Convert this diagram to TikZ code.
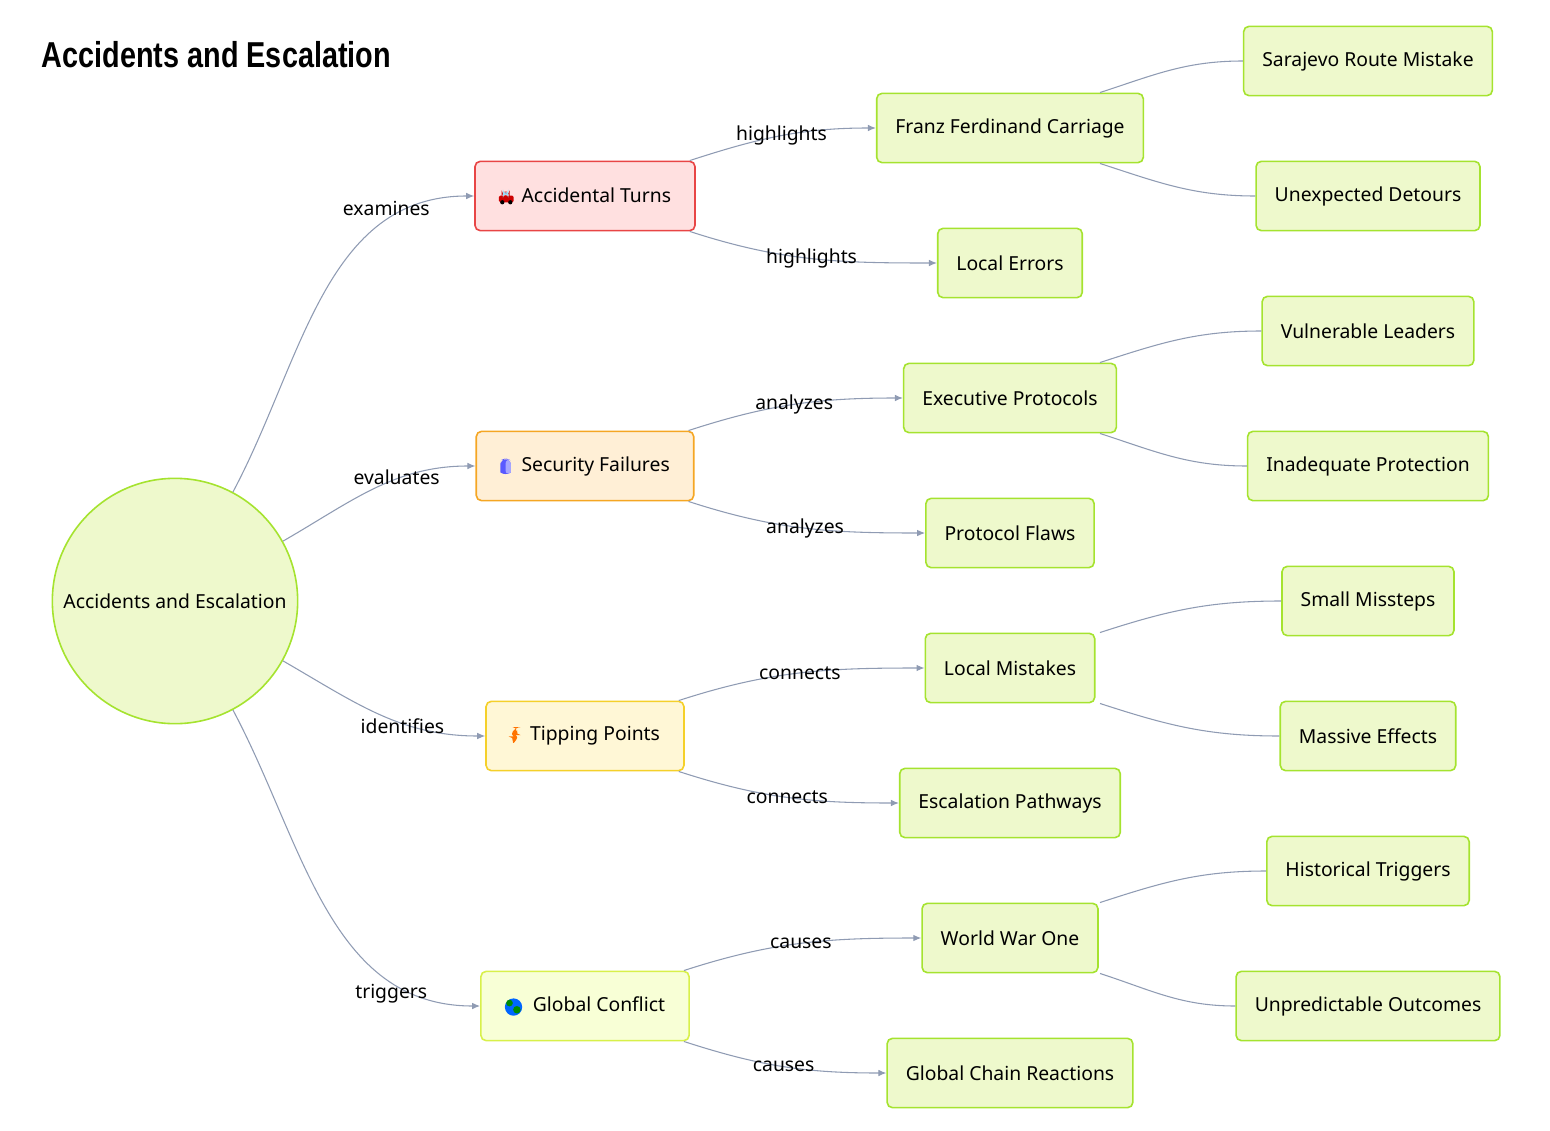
\documentclass[tikz,border=0pt]{standalone}
\usepackage{fontspec}
\setmainfont{Noto Sans}
\newfontfamily\titlefont{Liberation Sans}
\usetikzlibrary{arrows.meta,calc}

\definecolor{edgegray}{HTML}{8F9BB3}
\definecolor{leaffill}{HTML}{EEF9CC}
\definecolor{leafline}{HTML}{A5E32F}
\tikzset{every picture/.style={line width=0.75pt}}
\tikzset{
  box/.style={draw, rounded corners=4pt, minimum height=52pt, inner xsep=14pt,
    font=\fontsize{14.5}{17}\selectfont, line width=1.2pt},
  branch/.style={box, inner xsep=18pt},
  leaf/.style={box, fill=leaffill, draw=leafline},
  link/.style={draw=edgegray, line width=0.8pt, -{Latex[length=6pt,width=5pt]}},
  plain/.style={draw=edgegray, line width=0.8pt},
  lbl/.style={font=\fontsize{14.5}{17}\selectfont, inner sep=1pt}
}
\newcommand{\iconcar}{\tikz[baseline=-3pt]{\fill[red!80!black,rounded corners=1pt] (0,-3pt) rectangle (11pt,2pt); \fill[red!80!black] (2pt,2pt) rectangle (8pt,5pt); \fill[cyan!40] (3pt,2.5pt) rectangle (7pt,4.5pt); \fill[black] (2.5pt,-3pt) circle (1.6pt) (8.5pt,-3pt) circle (1.6pt);}}
\newcommand{\iconshield}{\tikz[baseline=-3pt]{\fill[blue!65] (0,5pt) -- (4pt,6.5pt) -- (8pt,5pt) -- (8pt,0) .. controls (8pt,-4pt) .. (4pt,-6.5pt) .. controls (0,-4pt) .. (0,0) -- cycle; \fill[blue!35] (4pt,6.5pt) -- (8pt,5pt) -- (8pt,0) .. controls (8pt,-4pt) .. (4pt,-6.5pt) -- cycle;}}
\newcommand{\iconbolt}{\tikz[baseline=-3pt]{\fill[orange!90!red] (4pt,7pt) -- (0,0) -- (3pt,0) -- (1.5pt,-7pt) -- (7pt,1pt) -- (4pt,1pt) -- (6pt,7pt) -- cycle;}}
\newcommand{\iconglobe}{\tikz[baseline=-3pt]{\fill[blue!60!cyan] (0,0) circle (6.5pt); \fill[green!55!black] (-3pt,3pt) circle (2.5pt) (2.5pt,-2pt) circle (2.8pt);}}

\begin{document}
\begin{tikzpicture}[x=0.75pt,y=0.75pt,yscale=-1,xscale=1]
	\useasboundingbox (0,0) rectangle (1550,1131);

	% Title
	\node[anchor=west, font=\titlefont\bfseries\fontsize{27}{30}\selectfont, xscale=0.8] (title) at (38,55) {Accidents and Escalation};

	% Root
	\node[circle, draw=leafline, fill=leaffill, line width=1.2pt, minimum size=184pt, inner sep=0pt, font=\fontsize{14.5}{17}\selectfont] (root) at (175,601) {Accidents and Escalation};

	% First level
	\node[branch, fill={rgb,255:red,255;green,224;blue,224}, draw={rgb,255:red,232;green,69;blue,69}] (turns) at (585,196) {\iconcar\hspace{6pt}Accidental Turns};
	\node[branch, fill={rgb,255:red,255;green,239;blue,214}, draw={rgb,255:red,245;green,166;blue,35}] (security) at (585,466) {\iconshield\hspace{8pt}Security Failures};
	\node[branch, fill={rgb,255:red,255;green,247;blue,214}, draw={rgb,255:red,245;green,208;blue,42}] (tipping) at (585,736) {\iconbolt\hspace{8pt}Tipping Points};
	\node[branch, fill={rgb,255:red,248;green,255;blue,214}, draw={rgb,255:red,216;green,240;blue,74}] (conflict) at (585,1006) {\iconglobe\hspace{8pt}Global Conflict};

	% Second level
	\node[leaf] (carriage) at (1010,128) {Franz Ferdinand Carriage};
	\node[leaf] (localerr) at (1010,263) {Local Errors};
	\node[leaf] (executive) at (1010,398) {Executive Protocols};
	\node[leaf] (flaws) at (1010,533) {Protocol Flaws};
	\node[leaf] (mistakes) at (1010,668) {Local Mistakes};
	\node[leaf] (pathways) at (1010,803) {Escalation Pathways};
	\node[leaf] (wwone) at (1010,938) {World War One};
	\node[leaf] (chain) at (1010,1073) {Global Chain Reactions};

	% Third level
	\node[leaf] (sarajevo) at (1368,61) {Sarajevo Route Mistake};
	\node[leaf] (detours) at (1368,196) {Unexpected Detours};
	\node[leaf] (leaders) at (1368,331) {Vulnerable Leaders};
	\node[leaf] (protection) at (1368,466) {Inadequate Protection};
	\node[leaf] (missteps) at (1368,601) {Small Missteps};
	\node[leaf] (effects) at (1368,736) {Massive Effects};
	\node[leaf] (historical) at (1368,871) {Historical Triggers};
	\node[leaf] (outcomes) at (1368,1006) {Unpredictable Outcomes};

	\coordinate (fork) at (1100,0);

	% Root connectors
	\draw[link] (root.62) to[out=-62,in=180] node[lbl, pos=0.82, xshift=-14pt, yshift=2pt] {examines} (turns.west);
	\draw[link] (root.29) to[out=-30,in=180] node[lbl, pos=0.62, yshift=2pt] {evaluates} (security.west);
	\draw[link] (root.-29) to[out=30,in=180] node[lbl, pos=0.62, yshift=-2pt] {identifies} (tipping.west);
	\draw[link] (root.-62) to[out=62,in=180] node[lbl, pos=0.82, xshift=-14pt, yshift=-2pt] {triggers} (conflict.west);

	% First level connectors
	\foreach \a/\b/\c/\t in {turns/carriage/localerr/highlights, security/executive/flaws/analyzes, tipping/mistakes/pathways/connects, conflict/wwone/chain/causes}{
		\draw[link] ($(\a.north east)+(-6,0)$) to[out=-18,in=180] node[lbl, pos=0.5] {\t} (\b.west);
		\draw[link] ($(\a.south east)+(-6,0)$) to[out=18,in=180] node[lbl, pos=0.5] {\t} (\c.west);
	}

	% Second level connectors
	\foreach \a/\b/\c in {carriage/sarajevo/detours, executive/leaders/protection, mistakes/missteps/effects, wwone/historical/outcomes}{
		\draw[plain] (\a.north -| fork) to[out=-18,in=180] (\b.west);
		\draw[plain] (\a.south -| fork) to[out=18,in=180] (\c.west);
	}
\end{tikzpicture}
\end{document}
